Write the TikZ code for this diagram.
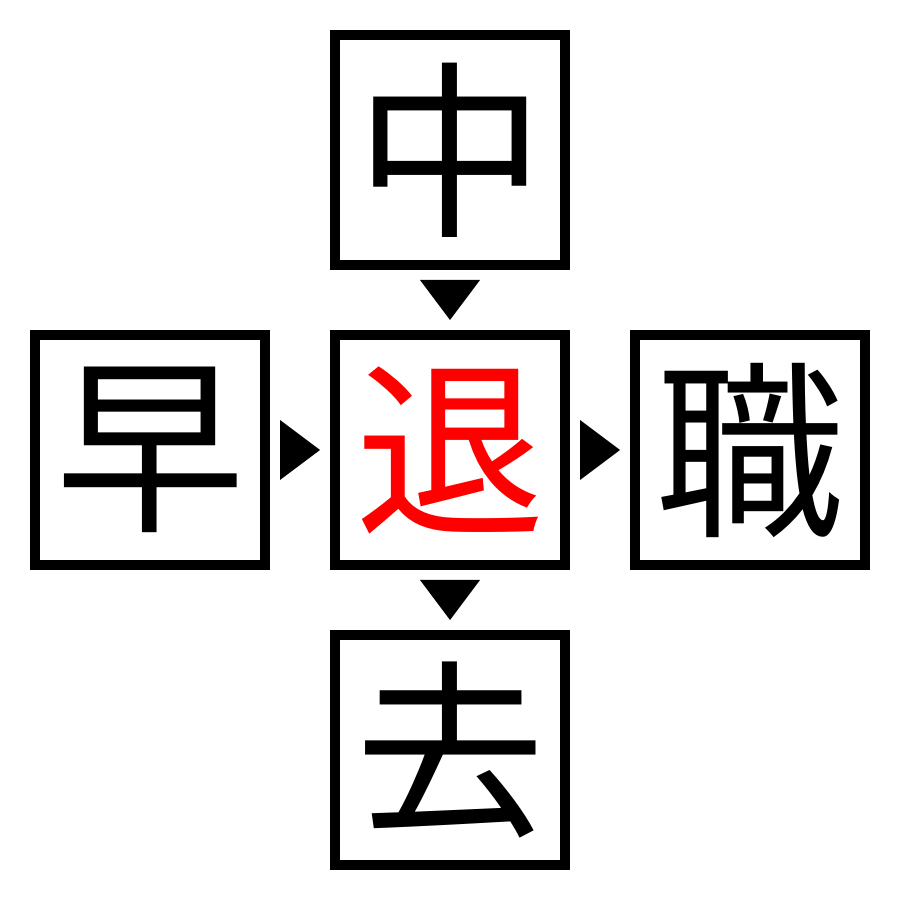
\documentclass[tikz,border=0pt]{standalone}
\usepackage{fontspec}
\newfontfamily\cjk{Noto Sans CJK JP}
\usetikzlibrary{positioning, calc}

\begin{document}
\begin{tikzpicture}
    [
        node distance=30mm and 30mm, on grid,
        kanji_box/.style={rectangle, draw=black, line width=1mm, minimum size=23mm, inner sep=0mm, font=\cjk\fontsize{54pt}{54pt}\selectfont},
        red_kanji/.style={kanji_box, text=red},
    ]
        \useasboundingbox (0,0) rectangle (9,9) ;
        \node[red_kanji] (tai) at (4.5,4.5) {退} ;
        \node[kanji_box] (chu) [above = of tai] {中} ;
        \node[kanji_box] (so) [left = of tai] {早} ;
        \node[kanji_box] (shoku) [right = of tai] {職} ;
        \node[kanji_box] (kyo) [below = of tai] {去} ;
        \fill ($(chu.south)!0.5!(tai.north)$) +(-0.3,0.2) -- +(0.3,0.2) -- +(0,-0.2) -- cycle ;
        \fill ($(tai.south)!0.5!(kyo.north)$) +(-0.3,0.2) -- +(0.3,0.2) -- +(0,-0.2) -- cycle ;
        \fill ($(so.east)!0.5!(tai.west)$) +(-0.2,0.3) -- +(-0.2,-0.3) -- +(0.2,0) -- cycle ;
        \fill ($(tai.east)!0.5!(shoku.west)$) +(-0.2,0.3) -- +(-0.2,-0.3) -- +(0.2,0) -- cycle ;
    \end{tikzpicture}
\end{document}
